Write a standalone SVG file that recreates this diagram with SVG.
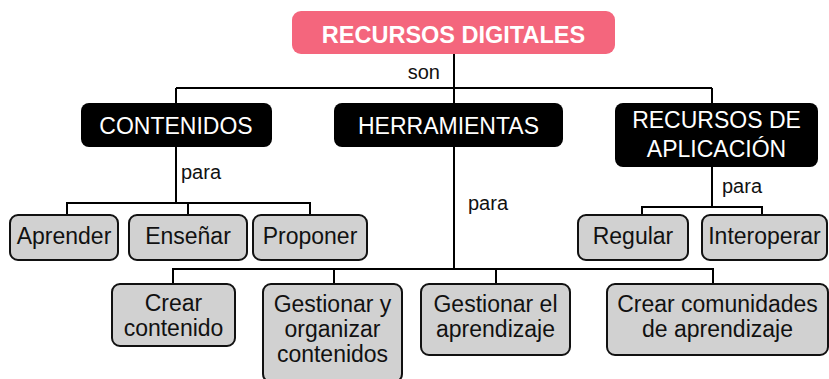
<svg xmlns="http://www.w3.org/2000/svg" width="829" height="379" viewBox="0 0 829 379">
<style>
.ln{stroke:#000;stroke-width:2;fill:none}
.blk{fill:#000}
.gry{fill:#d1d1d1;stroke:#111;stroke-width:2}
.wt{fill:#fff;font-family:"Liberation Sans",Arial,sans-serif;font-size:23px;text-anchor:middle}
.bt{fill:#111;font-family:"Liberation Sans",Arial,sans-serif;font-size:23px;text-anchor:middle}
.lb{fill:#111;font-family:"Liberation Sans",Arial,sans-serif;font-size:20px}
</style>
<rect width="829" height="379" fill="#fff"/>
<g id="connectors">
<path class="ln" d="M454 54V269"/>
<path class="ln" d="M176 88H712"/>
<path class="ln" d="M176 88V103M712 88V103"/>
<path class="ln" d="M176 147V203M67 215V203H310V215M188 203V215"/>
<path class="ln" d="M712 167V207M642 215V207H762V215"/>
<path class="ln" d="M173 284V269H713V284M334 269V284M496 269V284"/>
<text class="lb" x="440" y="79" text-anchor="end">son</text>
<text class="lb" x="181" y="179">para</text>
<text class="lb" x="468" y="210">para</text>
<text class="lb" x="722" y="193">para</text>
</g>
<g id="n-root">
<rect x="292" y="11" width="323" height="43" rx="9" fill="#f4667d"/>
<text x="453.5" y="43" fill="#fff" font-family="'Liberation Sans',Arial,sans-serif" font-size="23.5" font-weight="bold" text-anchor="middle">RECURSOS DIGITALES</text>
</g>
<g id="n-contenidos">
<rect class="blk" x="81" y="103" width="191" height="44" rx="8"/>
<text class="wt" x="176" y="134">CONTENIDOS</text>
</g>
<g id="n-herramientas">
<rect class="blk" x="334" y="103" width="229" height="44" rx="8"/>
<text class="wt" x="448.5" y="134">HERRAMIENTAS</text>
</g>
<g id="n-aplicacion">
<rect class="blk" x="615" y="103" width="203" height="64" rx="8"/>
<text class="wt" x="716.5" y="128">RECURSOS DE</text>
<text class="wt" x="716.5" y="157">APLICACIÓN</text>
</g>
<g id="n-aprender">
<rect class="gry" x="10" y="215" width="108" height="45" rx="8"/>
<text class="bt" x="64" y="244">Aprender</text>
</g>
<g id="n-ensenar">
<rect class="gry" x="129" y="215" width="118" height="45" rx="8"/>
<text class="bt" x="188" y="244">Enseñar</text>
</g>
<g id="n-proponer">
<rect class="gry" x="253" y="215" width="114" height="45" rx="8"/>
<text class="bt" x="310" y="244">Proponer</text>
</g>
<g id="n-regular">
<rect class="gry" x="578" y="215" width="110" height="45" rx="8"/>
<text class="bt" x="633" y="244">Regular</text>
</g>
<g id="n-interoperar">
<rect class="gry" x="702" y="215" width="125" height="45" rx="8"/>
<text class="bt" x="764.5" y="244">Interoperar</text>
</g>
<g id="n-crear">
<rect class="gry" x="112" y="284" width="123" height="62" rx="8"/>
<text class="bt" x="173.5" y="311">Crear</text>
<text class="bt" x="173.5" y="336">contenido</text>
</g>
<g id="n-gestionar-org">
<rect class="gry" x="263" y="284" width="139" height="98" rx="8"/>
<text class="bt" x="332.5" y="312">Gestionar y</text>
<text class="bt" x="332.5" y="337">organizar</text>
<text class="bt" x="332.5" y="362">contenidos</text>
</g>
<g id="n-gestionar-apr">
<rect class="gry" x="421" y="284" width="149" height="71" rx="8"/>
<text class="bt" x="495.5" y="312">Gestionar el</text>
<text class="bt" x="495.5" y="337">aprendizaje</text>
</g>
<g id="n-comunidades">
<rect class="gry" x="607" y="284" width="221" height="71" rx="8"/>
<text class="bt" x="717.5" y="312">Crear comunidades</text>
<text class="bt" x="717.5" y="337">de aprendizaje</text>
</g>
</svg>
